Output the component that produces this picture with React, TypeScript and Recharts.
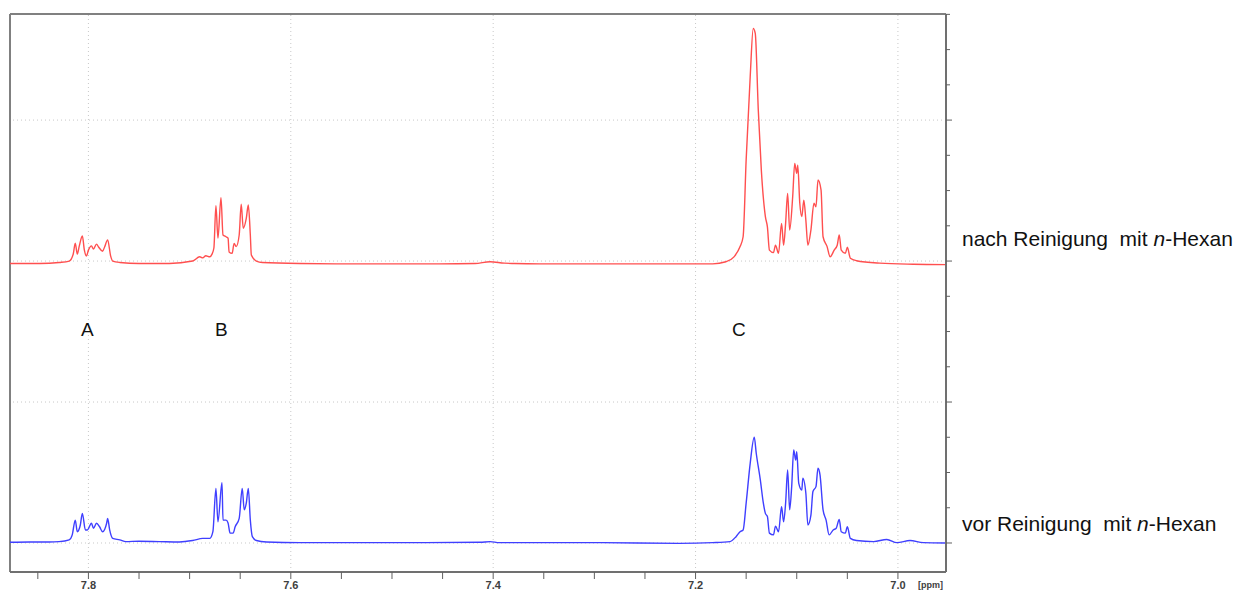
import React from 'react';
import { LineChart, Line, XAxis, YAxis, ReferenceLine } from 'recharts';

// ppm, intensity (relative to own baseline)
const afterSpectrum: [number, number][] = [
  [7.8775, 0], [7.848, 0], [7.829, 0.03], [7.819, 0.07], [7.815, 0.27], [7.813, 0.58], [7.811, 0.27],
  [7.809, 0.5], [7.806, 0.78], [7.804, 0.38], [7.802, 0.21], [7.8, 0.38], [7.797, 0.5], [7.795, 0.41],
  [7.792, 0.55], [7.79, 0.47], [7.786, 0.35], [7.784, 0.47], [7.781, 0.67], [7.778, 0.21], [7.776, 0.07],
  [7.769, 0.03], [7.75, 0], [7.72, 0], [7.697, 0.07], [7.69, 0.19], [7.687, 0.16], [7.684, 0.22],
  [7.68, 0.19], [7.678, 0.26], [7.676, 0.44], [7.674, 1.64], [7.672, 0.72], [7.669, 1.87], [7.667, 0.81],
  [7.664, 0.76], [7.662, 0.72], [7.661, 0.33], [7.658, 0.29], [7.656, 0.57], [7.654, 0.48], [7.651, 0.81],
  [7.649, 1.68], [7.647, 1.0], [7.644, 1.28], [7.642, 1.66], [7.64, 0.81], [7.639, 0.24], [7.634, 0.07],
  [7.628, 0.03], [7.591, 0], [7.542, -0.01], [7.453, -0.01], [7.418, 0], [7.403, 0.05], [7.389, 0.01],
  [7.379, 0], [7.354, -0.01], [7.295, -0.01], [7.216, -0.01], [7.183, -0.01], [7.17, 0.05], [7.162, 0.19],
  [7.156, 0.48], [7.153, 0.76], [7.15, 2.94], [7.146, 5.3], [7.143, 6.67], [7.141, 6.53], [7.138, 4.35],
  [7.135, 2.65], [7.131, 1.33], [7.129, 1.04], [7.127, 0.38], [7.123, 0.31], [7.121, 0.52], [7.118, 0.29],
  [7.115, 1.14], [7.113, 0.52], [7.111, 1.14], [7.109, 1.99], [7.107, 0.95], [7.104, 1.9], [7.102, 2.84],
  [7.1, 2.56], [7.099, 2.79], [7.097, 1.71], [7.095, 1.33], [7.093, 1.8], [7.091, 1.23], [7.089, 0.52],
  [7.086, 0.95], [7.083, 1.71], [7.081, 1.61], [7.079, 2.37], [7.076, 2.09], [7.074, 0.76], [7.07, 0.48],
  [7.067, 0.19], [7.063, 0.38], [7.06, 0.52], [7.058, 0.81], [7.056, 0.38], [7.052, 0.29], [7.05, 0.46],
  [7.047, 0.15], [7.041, 0.08], [7.018, 0.01], [6.985, -0.02], [6.9525, -0.03],
];

const beforeSpectrum: [number, number][] = [
  [7.8775, 0.02], [7.858, 0.03], [7.839, 0.03], [7.829, 0.04], [7.819, 0.09], [7.816, 0.23], [7.813, 0.65],
  [7.811, 0.32], [7.808, 0.51], [7.806, 0.84], [7.803, 0.37], [7.801, 0.37], [7.797, 0.56], [7.795, 0.42],
  [7.792, 0.56], [7.789, 0.46], [7.786, 0.32], [7.782, 0.56], [7.781, 0.7], [7.779, 0.37], [7.776, 0.13],
  [7.769, 0.09], [7.763, 0.04], [7.75, 0.05], [7.73, 0.04], [7.71, 0.03], [7.697, 0.07], [7.687, 0.13],
  [7.68, 0.13], [7.677, 0.32], [7.674, 1.55], [7.672, 0.6], [7.668, 1.71], [7.667, 0.65], [7.664, 0.65],
  [7.662, 0.57], [7.66, 0.28], [7.657, 0.28], [7.655, 0.46], [7.651, 0.7], [7.648, 1.55], [7.646, 0.94],
  [7.644, 1.13], [7.642, 1.55], [7.64, 0.65], [7.638, 0.18], [7.634, 0.07], [7.624, 0.03], [7.591, 0.01],
  [7.542, 0.01], [7.492, 0.01], [7.413, 0.02], [7.403, 0.04], [7.394, 0.01], [7.295, 0.01], [7.216, -0.01],
  [7.183, 0.01], [7.166, 0.04], [7.16, 0.18], [7.156, 0.32], [7.153, 0.37], [7.15, 1.13], [7.146, 2.26],
  [7.142, 3.0], [7.14, 2.54], [7.136, 1.79], [7.133, 1.13], [7.131, 0.84], [7.129, 0.75], [7.127, 0.28],
  [7.123, 0.23], [7.121, 0.48], [7.118, 0.32], [7.115, 1.03], [7.113, 0.6], [7.111, 1.13], [7.109, 2.07],
  [7.107, 0.94], [7.105, 1.6], [7.103, 2.64], [7.101, 2.35], [7.1, 2.59], [7.098, 1.69], [7.095, 1.5],
  [7.094, 1.84], [7.091, 1.41], [7.089, 0.51], [7.086, 0.79], [7.084, 1.46], [7.081, 1.6], [7.079, 2.12],
  [7.077, 1.93], [7.074, 0.94], [7.071, 0.65], [7.068, 0.23], [7.064, 0.37], [7.061, 0.42], [7.058, 0.67],
  [7.056, 0.32], [7.052, 0.28], [7.05, 0.46], [7.047, 0.13], [7.041, 0.07], [7.024, 0.04], [7.011, 0.1],
  [7.001, 0.01], [6.988, 0.07], [6.975, 0.01], [6.9525, 0],
];

const AFTER_OFFSET = 7.93;
const BEFORE_OFFSET = 0;

const X_DOMAIN: [number, number] = [6.9525, 7.8775];
const Y_DOMAIN: [number, number] = [-0.823, 15.01];

const xTicks = [7.85, 7.8, 7.75, 7.7, 7.65, 7.6, 7.55, 7.5, 7.45, 7.4, 7.35, 7.3, 7.25, 7.2, 7.15, 7.1, 7.05, 7.0];
const xMajor = [7.8, 7.6, 7.4, 7.2, 7.0];
const yTicks = [0, 1, 2, 3, 4, 5, 6, 7, 8, 9, 10, 11, 12, 13, 14, 15];
const yMajor = [0, 4, 8, 12];

const peakLabels = [
  { text: 'A', left: 81 },
  { text: 'B', left: 215 },
  { text: 'C', left: 732 },
];

const afterData = afterSpectrum.map(([ppm, v]) => ({ ppm, value: v + AFTER_OFFSET }));
const beforeData = beforeSpectrum.map(([ppm, v]) => ({ ppm, value: v + BEFORE_OFFSET }));

const isMajor = (list: number[], v: number) => list.some(m => Math.abs(m - v) < 1e-6);

const font = 'Liberation Sans, Arial, sans-serif';

const XTick = (props: any) => {
  const { x, y, payload } = props;
  const major = isMajor(xMajor, payload.value);
  return (
    <g>
      <line x1={x} y1={y} x2={x} y2={y + 7} stroke="#606060" strokeWidth={1} />
      {major && (
        <text x={x} y={y + 17} textAnchor="middle" fontSize={11} fontWeight="bold" fill="#404040" fontFamily={font}>
          {payload.value.toFixed(1)}
        </text>
      )}
    </g>
  );
};

const YTick = (props: any) => {
  const { x, y, payload } = props;
  const len = isMajor(yMajor, payload.value) ? 6 : 4;
  return <line x1={x} y1={y} x2={x + len} y2={y} stroke="#606060" strokeWidth={1} />;
};

const textStyle: React.CSSProperties = {
  position: 'absolute', fontFamily: font, fontSize: 21, lineHeight: '22px', color: '#111', whiteSpace: 'pre',
};

const App: React.FC = () => (
  <div style={{ position: 'absolute', left: 0, top: 0, width: 1234, height: 592, background: '#fff' }}>
    <LineChart width={1234} height={592} margin={{ top: 14, right: 268, bottom: 0, left: 10 }}>
      <XAxis dataKey="ppm" type="number" domain={X_DOMAIN} reversed allowDataOverflow
        ticks={xTicks} tick={<XTick />} tickLine={false} tickSize={0} tickMargin={0} height={20}
        axisLine={{ stroke: '#707070', strokeWidth: 2 }} interval={0} />
      <YAxis orientation="right" type="number" domain={Y_DOMAIN} allowDataOverflow
        ticks={yTicks} tick={<YTick />} tickLine={false} tickSize={0} tickMargin={0} width={20} interval={0}
        axisLine={{ stroke: '#707070', strokeWidth: 2 }} />
      {xMajor.map(v => (
        <ReferenceLine key={'x' + v} x={v} stroke="#c8c8c8" strokeDasharray="1 3" />
      ))}
      {yMajor.map(v => (
        <ReferenceLine key={'y' + v} y={v} stroke="#c8c8c8" strokeDasharray="1 3" />
      ))}
      <ReferenceLine x={X_DOMAIN[1]} stroke="#808080" strokeWidth={2} />
      <ReferenceLine y={Y_DOMAIN[1]} stroke="#808080" strokeWidth={2} />
      <Line data={beforeData} dataKey="value" type="monotone" dot={false} stroke="#3f3fff" strokeWidth={1.4}
        isAnimationActive={false} />
      <Line data={afterData} dataKey="value" type="monotone" dot={false} stroke="#ff4f4f" strokeWidth={1.4}
        isAnimationActive={false} />
    </LineChart>
    {peakLabels.map(p => (
      <div key={p.text} style={{ ...textStyle, left: p.left, top: 319, fontSize: 19 }}>
        {p.text}
      </div>
    ))}
    <div style={{ ...textStyle, left: 962, top: 228 }}>
      nach Reinigung  mit <i>n</i>-Hexan
    </div>
    <div style={{ ...textStyle, left: 962, top: 513 }}>
      vor Reinigung  mit <i>n</i>-Hexan
    </div>
    <div style={{ position: 'absolute', left: 918, top: 580, fontFamily: font, fontSize: 9, fontWeight: 'bold', color: '#404040' }}>
      [ppm]
    </div>
  </div>
);

export default App;
